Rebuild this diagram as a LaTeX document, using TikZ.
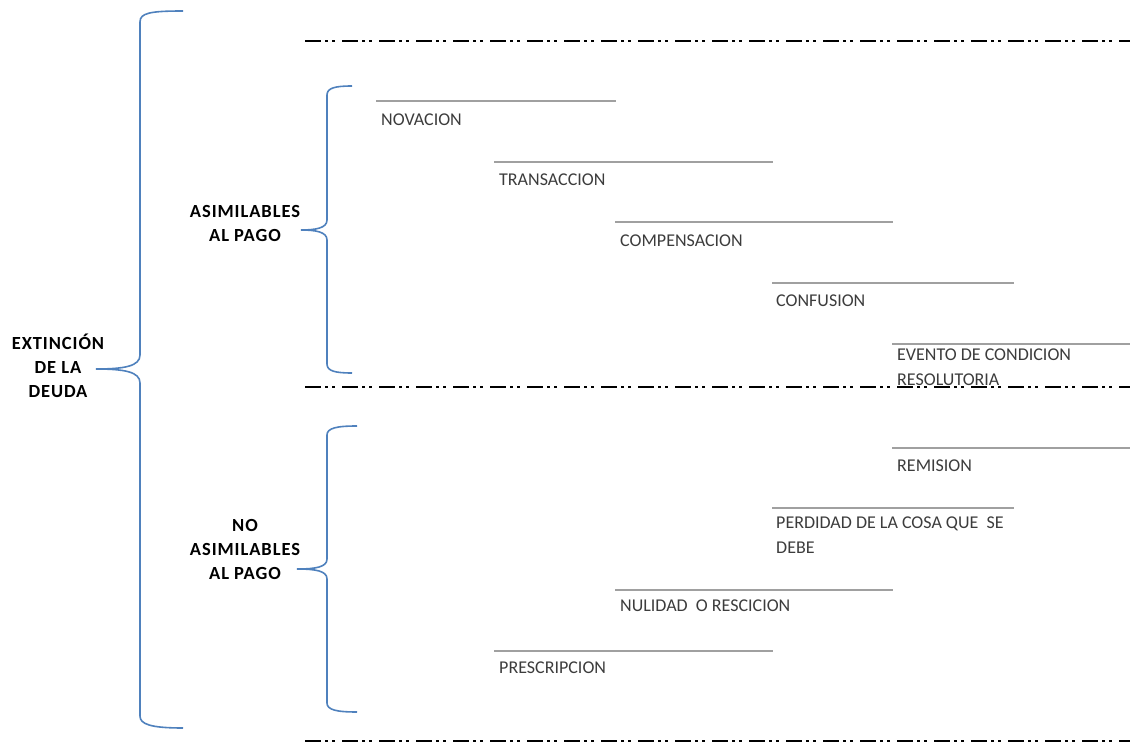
\documentclass[tikz,border=0pt]{standalone}
\usepackage{fontspec}
\setmainfont{Carlito}
\newfontfamily\catfont[LetterSpace=5]{Carlito}
\definecolor{braceblue}{HTML}{4F81BD}
\definecolor{linegray}{HTML}{A0A0A0}
\definecolor{txtgray}{HTML}{3C3C3C}
\begin{document}
\begin{tikzpicture}[x=1pt,y=-1pt,
  brace/.style={draw=braceblue,line width=1.6pt},
  sep/.style={draw=black,line width=1.3pt,dash pattern=on 16pt off 4pt on 3pt off 4pt on 3pt off 7pt},
  under/.style={draw=linegray,line width=1.4pt},
  item/.style={anchor=north west,inner sep=0pt,text=txtgray,font=\fontsize{18}{25}\selectfont,align=left},
  cat/.style={anchor=north,inner sep=0pt,text=black,font=\catfont\fontsize{18.5}{24}\bfseries\selectfont,align=center}]
\useasboundingbox (0,0) rectangle (1130,743);
% separators
\coordinate (s1a) at (305,41);  \coordinate (s1b) at (1130,41);
\coordinate (s2a) at (305,387); \coordinate (s2b) at (1130,387);
\coordinate (s3a) at (305,741); \coordinate (s3b) at (1130,741);
\draw[sep] (s1a) -- (s1b);
\draw[sep] (s2a) -- (s2b);
\draw[sep] (s3a) -- (s3b);
% main brace
\coordinate (bt) at (183,11);
\coordinate (btip) at (96,369);
\coordinate (bb) at (183,728);
\draw[brace] (bt) .. controls (150,11) and (140,13) .. (140,22) -- (140,355)
  .. controls (140,366) and (125,369) .. (btip)
  .. controls (125,369) and (140,372) .. (140,383) -- (140,716)
  .. controls (140,724) and (150,728) .. (bb);
% upper brace
\coordinate (ut) at (352,86);
\coordinate (utip) at (301,230);
\coordinate (ub) at (352,373);
\draw[brace] (ut) .. controls (335,86) and (327,88) .. (327,95) -- (327,220)
  .. controls (327,228) and (316,230) .. (utip)
  .. controls (316,230) and (327,232) .. (327,240) -- (327,364)
  .. controls (327,371) and (335,373) .. (ub);
% lower brace
\coordinate (lt) at (357,426);
\coordinate (ltip) at (297,569);
\coordinate (lb) at (357,712);
\draw[brace] (lt) .. controls (337,426) and (327,428) .. (327,435) -- (327,559)
  .. controls (327,567) and (316,569) .. (ltip)
  .. controls (316,569) and (327,571) .. (327,579) -- (327,703)
  .. controls (327,710) and (337,712) .. (lb);
% category labels
\node[cat] (ext) at (58,334) {EXTINCIÓN\\DE LA\\DEUDA};
\node[cat] (asi) at (245,205) {ASIMILABLES\\AL PAGO};
\node[cat] (noasi) at (245,519) {NO\\ASIMILABLES\\AL PAGO};
% items
\node[item] (nov) at (381,113.5) {NOVACION};
\draw[under] (376,101) -- (616,101);
\node[item] (tra) at (499,173.5) {TRANSACCION};
\draw[under] (494,162) -- (773,162);
\node[item] (com) at (620,234.5) {COMPENSACION};
\draw[under] (615,222) -- (893,222);
\node[item] (conf) at (776,294.5) {CONFUSION};
\draw[under] (772,283) -- (1014,283);
\node[item] (ev) at (897,348.5) {EVENTO DE CONDICION\\RESOLUTORIA};
\draw[under] (892,344) -- (1130,344);
\node[item] (rem) at (897,459.5) {REMISION};
\draw[under] (892,448) -- (1130,448);
\node[item] (per) at (776,516.5) {PERDIDAD DE LA COSA QUE \ SE\\DEBE};
\draw[under] (772,508) -- (1014,508);
\node[item] (nul) at (620,599.5) {NULIDAD \ O RESCICION};
\draw[under] (615,590) -- (893,590);
\node[item] (pre) at (499,661.5) {PRESCRIPCION};
\draw[under] (494,651) -- (773,651);
\end{tikzpicture}
\end{document}
